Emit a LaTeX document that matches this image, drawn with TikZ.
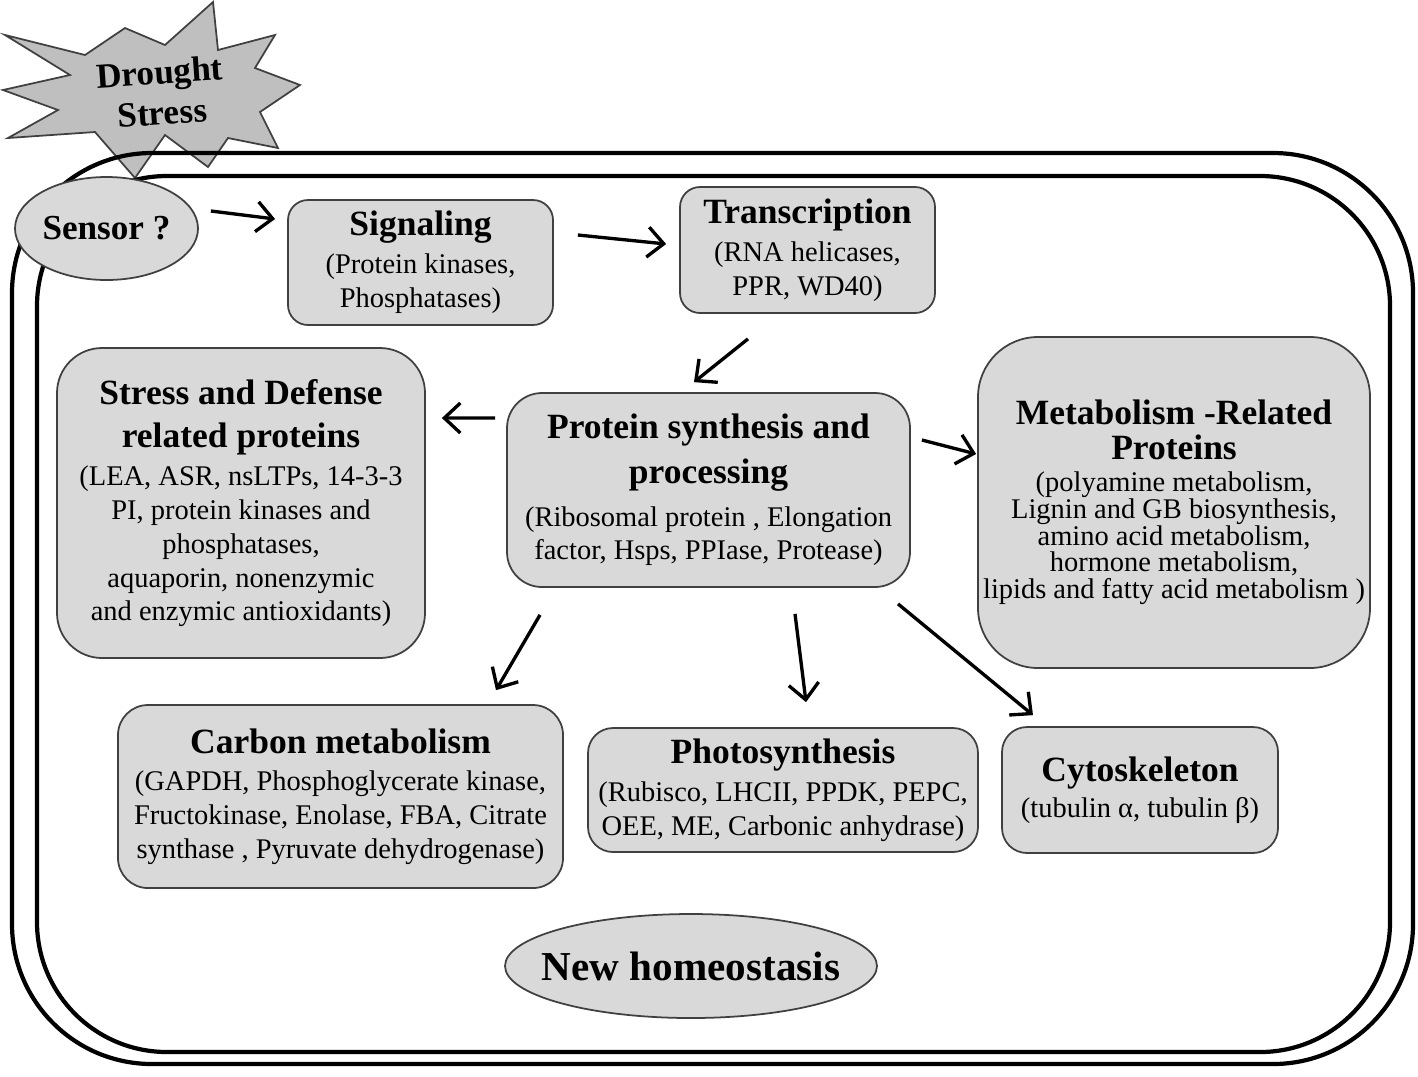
\documentclass[tikz,border=0pt]{standalone}
\usepackage{fontspec}
\setmainfont{Liberation Serif}
\usetikzlibrary{arrows.meta,calc,shapes.geometric}

\newcommand{\boxtitle}{\fontsize{10.1}{12.5}\selectfont\bfseries}

\begin{document}
\begin{tikzpicture}[>={Straight Barb[length=1.6mm,width=3mm]}, line width=0.95pt]
    \tikzstyle{box}=[rectangle, draw=black!75, line width=0.5pt, fill=black!15, inner sep=0pt, align=center, font=\fontsize{8.1}{9.6}\selectfont]
    \tikzstyle{oval}=[ellipse, draw=black!75, line width=0.5pt, fill=black!15, inner sep=0pt, font=\fontsize{10}{12}\selectfont\bfseries]
    \tikzstyle{frame}=[line width=1.2pt]

    \useasboundingbox (0,0) rectangle (14.18,-10.76);

    % drought starburst
    \draw[line width=0.5pt, draw=black!75, fill=black!25]
        (2.13,-0.02) -- (2.18,-0.50) -- (2.75,-0.35) -- (2.55,-0.68) -- (3.00,-0.85)
        -- (2.60,-1.12) -- (2.78,-1.48) -- (2.28,-1.38) -- (2.08,-1.67) -- (1.65,-1.35)
        -- (1.35,-1.78) -- (0.95,-1.32) -- (0.08,-1.38) -- (0.58,-1.10) -- (0.03,-0.90)
        -- (0.70,-0.75) -- (0.05,-0.35) -- (0.85,-0.55) -- (1.25,-0.28) -- (1.65,-0.45) -- cycle;
    \node[align=center, rotate=4, font=\fontsize{10}{11.6}\selectfont\bfseries] (drought) at (1.61,-0.92) {Drought\\Stress};

    % cell
    \draw[frame, rounded corners=1.4cm] (0.12,-1.53) rectangle (14.13,-10.64);
    \draw[frame, rounded corners=1.3cm] (0.37,-1.76) rectangle (13.90,-10.52);

    \node[oval, minimum width=1.83cm, minimum height=1.03cm] (sensor) at (1.065,-2.285) {Sensor ?};

    \node[box, rounded corners=0.2cm, minimum width=2.65cm, minimum height=1.25cm] (signal) at (4.205,-2.625)
        {{\boxtitle Signaling}\\[1.2pt] (Protein kinases,\\ Phosphatases)};
    \node[box, rounded corners=0.2cm, minimum width=2.55cm, minimum height=1.26cm] (trans) at (8.075,-2.50)
        {{\boxtitle Transcription}\\[1.2pt] (RNA helicases,\\ PPR, WD40)};
    \node[box, rounded corners=0.35cm, minimum width=4.03cm, minimum height=1.94cm] (prot) at (7.085,-4.90)
        {{\boxtitle Protein synthesis and}\\[3pt] {\boxtitle processing}\\[2.6pt] (Ribosomal protein , Elongation\\ factor, Hsps, PPIase, Protease)};
    \node[box, rounded corners=0.45cm, minimum width=3.68cm, minimum height=3.10cm] (stress) at (2.41,-5.03)
        {{\boxtitle Stress and Defense}\\[2.9pt] {\boxtitle related proteins}\\[1.2pt] (LEA, ASR, nsLTPs, 14-3-3\\ PI, protein kinases and\\ phosphatases,\\ aquaporin, nonenzymic\\ and enzymic antioxidants)};
    \node[box, rounded corners=0.6cm, minimum width=3.92cm, minimum height=3.31cm, font=\fontsize{8.1}{7.6}\selectfont] (metab) at (11.74,-5.025)
        {{\boxtitle Metabolism -Related}\\[2.3pt] {\boxtitle Proteins}\\[1.5pt] (polyamine metabolism,\\ Lignin and GB biosynthesis,\\ amino acid metabolism,\\ hormone metabolism,\\ lipids and fatty acid metabolism )};
    \node[box, rounded corners=0.3cm, minimum width=4.45cm, minimum height=1.83cm] (carbon) at (3.405,-7.965)
        {{\boxtitle Carbon metabolism}\\[1pt] (GAPDH, Phosphoglycerate kinase,\\ Fructokinase, Enolase, FBA, Citrate\\ synthase , Pyruvate dehydrogenase)};
    \node[box, rounded corners=0.25cm, minimum width=3.90cm, minimum height=1.24cm] (photo) at (7.83,-7.90)
        {{\boxtitle Photosynthesis}\\[1.2pt] (Rubisco, LHCII, PPDK, PEPC,\\ OEE, ME, Carbonic anhydrase)};
    \node[box, rounded corners=0.25cm, minimum width=2.76cm, minimum height=1.26cm] (cyto) at (11.40,-7.90)
        {{\boxtitle Cytoskeleton}\\[0.6pt] (tubulin α, tubulin β)};

    \node[oval, inner xsep=-0.19cm, minimum width=3.72cm, minimum height=1.04cm, font=\fontsize{11.7}{14}\selectfont\bfseries] (home) at (6.91,-9.66) {New homeostasis};

    \draw ($(sensor.east)+(0.12,0.175)$) edge[->] ($(signal.west)+(-0.12,0.435)$);
    \draw ($(signal.east)+(0.24,0.275)$) edge[->] ($(trans.west)+(-0.13,0.06)$);
    \draw ($(trans.south)+(-0.595,-0.25)$) edge[->] ($(prot.north)+(-0.145,0.10)$);
    \draw ($(prot.west)+(-0.11,0.72)$) edge[->] ($(stress.east)+(0.16,0.85)$);
    \draw ($(prot.east)+(0.11,0.50)$) edge[->] ($(metab.west)+(-0.01,0.485)$);
    \draw ($(prot.south)+(-1.685,-0.27)$) edge[->] ($(carbon.north)+(1.555,0.14)$);
    \draw ($(prot.south)+(0.865,-0.26)$) edge[->] ($(photo.north)+(0.23,0.25)$);
    \draw ($(prot.south)+(1.895,-0.16)$) edge[->] ($(cyto.north)+(-1.07,0.11)$);
\end{tikzpicture}
\end{document}
